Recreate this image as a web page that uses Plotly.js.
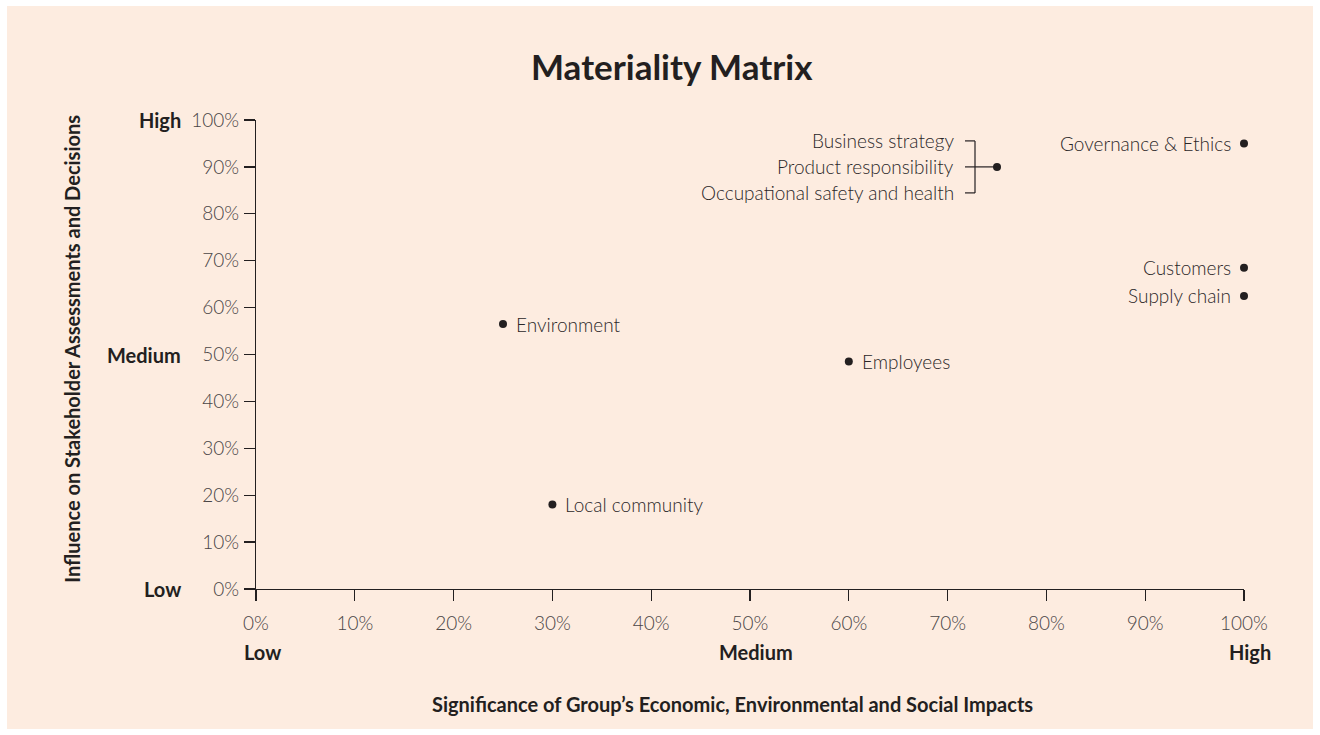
<!DOCTYPE html>
<html>
<head>
<meta charset="utf-8">
<script src="https://cdn.plot.ly/plotly-3.0.1.min.js"></script>
<style>
  html, body { margin: 0; padding: 0; background: #ffffff; }
  #chart { position: absolute; left: 7px; top: 6px; width: 1306px; height: 723px; }
</style>
</head>
<body>
<div id="chart"></div>
<script>
// ---- data ----
const topics = ["Governance & Ethics", "Customers", "Supply chain", "Environment", "Employees", "Local community"];
const significance = [100, 100, 100, 25, 60, 30];
const influence = [95, 68.5, 62.5, 56.5, 48.5, 18];

const groupTopics = ["Business strategy", "Product responsibility", "Occupational safety and health"];
const groupSignificance = [75];
const groupInfluence = [90];

const tickValues = [0, 10, 20, 30, 40, 50, 60, 70, 80, 90, 100];
const tickLabels = ["0%", "10%", "20%", "30%", "40%", "50%", "60%", "70%", "80%", "90%", "100%"];
const levelLabels = ["Low", "Medium", "High"];
const levelValues = [0, 50, 100];

const chartTitle = "Materiality Matrix";
const xTitle = "Significance of Group\u2019s Economic, Environmental and Social Impacts";
const yTitle = "Influence on Stakeholder Assessments and Decisions";

// ---- styles ----
const ink = "#231f20";
const bg = "#fdece0";
const thinFont = { family: "Lato, 'Open Sans', sans-serif", size: 19, color: "#2b2728", weight: 300 };
const tickFont = { family: "Lato, 'Open Sans', sans-serif", size: 19, color: "#4a4546", weight: 300 };
const boldFont = { family: "Lato, 'Open Sans', sans-serif", size: 20, color: ink, weight: 700 };

const traces = [
  {
    type: "scatter", mode: "markers",
    x: significance, y: influence, text: topics,
    marker: { size: 8, color: ink },
    cliponaxis: false, hoverinfo: "text"
  },
  {
    type: "scatter", mode: "markers",
    x: groupSignificance, y: groupInfluence, text: [groupTopics.join(", ")],
    marker: { size: 8, color: ink },
    cliponaxis: false, hoverinfo: "text"
  }
];

const annotations = [];
topics.forEach((t, i) => {
  const leftSide = significance[i] >= 90;
  annotations.push({
    x: significance[i], y: influence[i], xref: "x", yref: "y",
    text: t, showarrow: false,
    xanchor: leftSide ? "right" : "left", yanchor: "middle",
    xshift: leftSide ? -11 : 11, yshift: 0,
    font: thinFont
  });
});
groupTopics.forEach((t, i) => {
  annotations.push({
    x: groupSignificance[0], y: groupInfluence[0], xref: "x", yref: "y",
    text: t, showarrow: false,
    xanchor: "right", yanchor: "middle",
    xshift: -41, yshift: 26 - 26 * i,
    font: thinFont
  });
});
levelLabels.forEach((l, i) => {
  // y-axis level labels
  annotations.push({
    x: 0, xref: "paper", y: levelValues[i], yref: "y",
    text: "<b>" + l + "</b>", showarrow: false,
    xanchor: "right", yanchor: "middle", xshift: -73,
    font: boldFont
  });
  // x-axis level labels
  annotations.push({
    x: levelValues[i], xref: "x", y: 0, yref: "paper",
    text: "<b>" + l + "</b>", showarrow: false,
    xanchor: "center", yanchor: "middle", xshift: 6, yshift: -63,
    font: boldFont
  });
});
annotations.push({
  x: 0.482, xref: "paper", y: 0, yref: "paper",
  text: "<b>" + xTitle + "</b>", showarrow: false,
  xanchor: "center", yanchor: "middle", yshift: -115,
  font: boldFont
});
annotations.push({
  x: 0, xref: "paper", y: 0.512, yref: "paper",
  text: "<b>" + yTitle + "</b>", showarrow: false, textangle: -90,
  xanchor: "center", yanchor: "middle", xshift: -184,
  font: boldFont
});

const bracket = { color: ink, width: 1.2 };
const shapes = [
  { type: "line", xref: "x", yref: "y", xsizemode: "pixel", ysizemode: "pixel",
    xanchor: groupSignificance[0], yanchor: groupInfluence[0],
    x0: -22, x1: -22, y0: -26, y1: 26, line: bracket },
  { type: "line", xref: "x", yref: "y", xsizemode: "pixel", ysizemode: "pixel",
    xanchor: groupSignificance[0], yanchor: groupInfluence[0],
    x0: -32, x1: -22, y0: 26, y1: 26, line: bracket },
  { type: "line", xref: "x", yref: "y", xsizemode: "pixel", ysizemode: "pixel",
    xanchor: groupSignificance[0], yanchor: groupInfluence[0],
    x0: -32, x1: -22, y0: -26, y1: -26, line: bracket },
  { type: "line", xref: "x", yref: "y", xsizemode: "pixel", ysizemode: "pixel",
    xanchor: groupSignificance[0], yanchor: groupInfluence[0],
    x0: -32, x1: 0, y0: 0, y1: 0, line: bracket }
];

const axisCommon = {
  range: [0, 100], tickmode: "array", tickvals: tickValues, ticktext: tickLabels,
  showgrid: false, zeroline: false, showline: true,
  linecolor: ink, linewidth: 1.2,
  ticks: "outside", ticklen: 11, tickwidth: 1.2, tickcolor: ink,
  tickfont: tickFont, fixedrange: true
};

const layout = {
  width: 1306, height: 723,
  paper_bgcolor: bg, plot_bgcolor: bg,
  margin: { l: 249, r: 69, t: 114, b: 140 },
  showlegend: false,
  title: {
    text: "<b>" + chartTitle + "</b>",
    xref: "container", x: 0.509, xanchor: "center",
    yref: "container", y: 0.914, yanchor: "middle",
    font: { family: "Lato, 'Open Sans', sans-serif", size: 35, color: ink, weight: 700 }
  },
  xaxis: Object.assign({}, axisCommon, { ticklabelstandoff: 6 }),
  yaxis: Object.assign({}, axisCommon, { ticklabelstandoff: 1 }),
  annotations: annotations,
  shapes: shapes
};

Plotly.newPlot("chart", traces, layout, { displayModeBar: false, staticPlot: true });
</script>
</body>
</html>
